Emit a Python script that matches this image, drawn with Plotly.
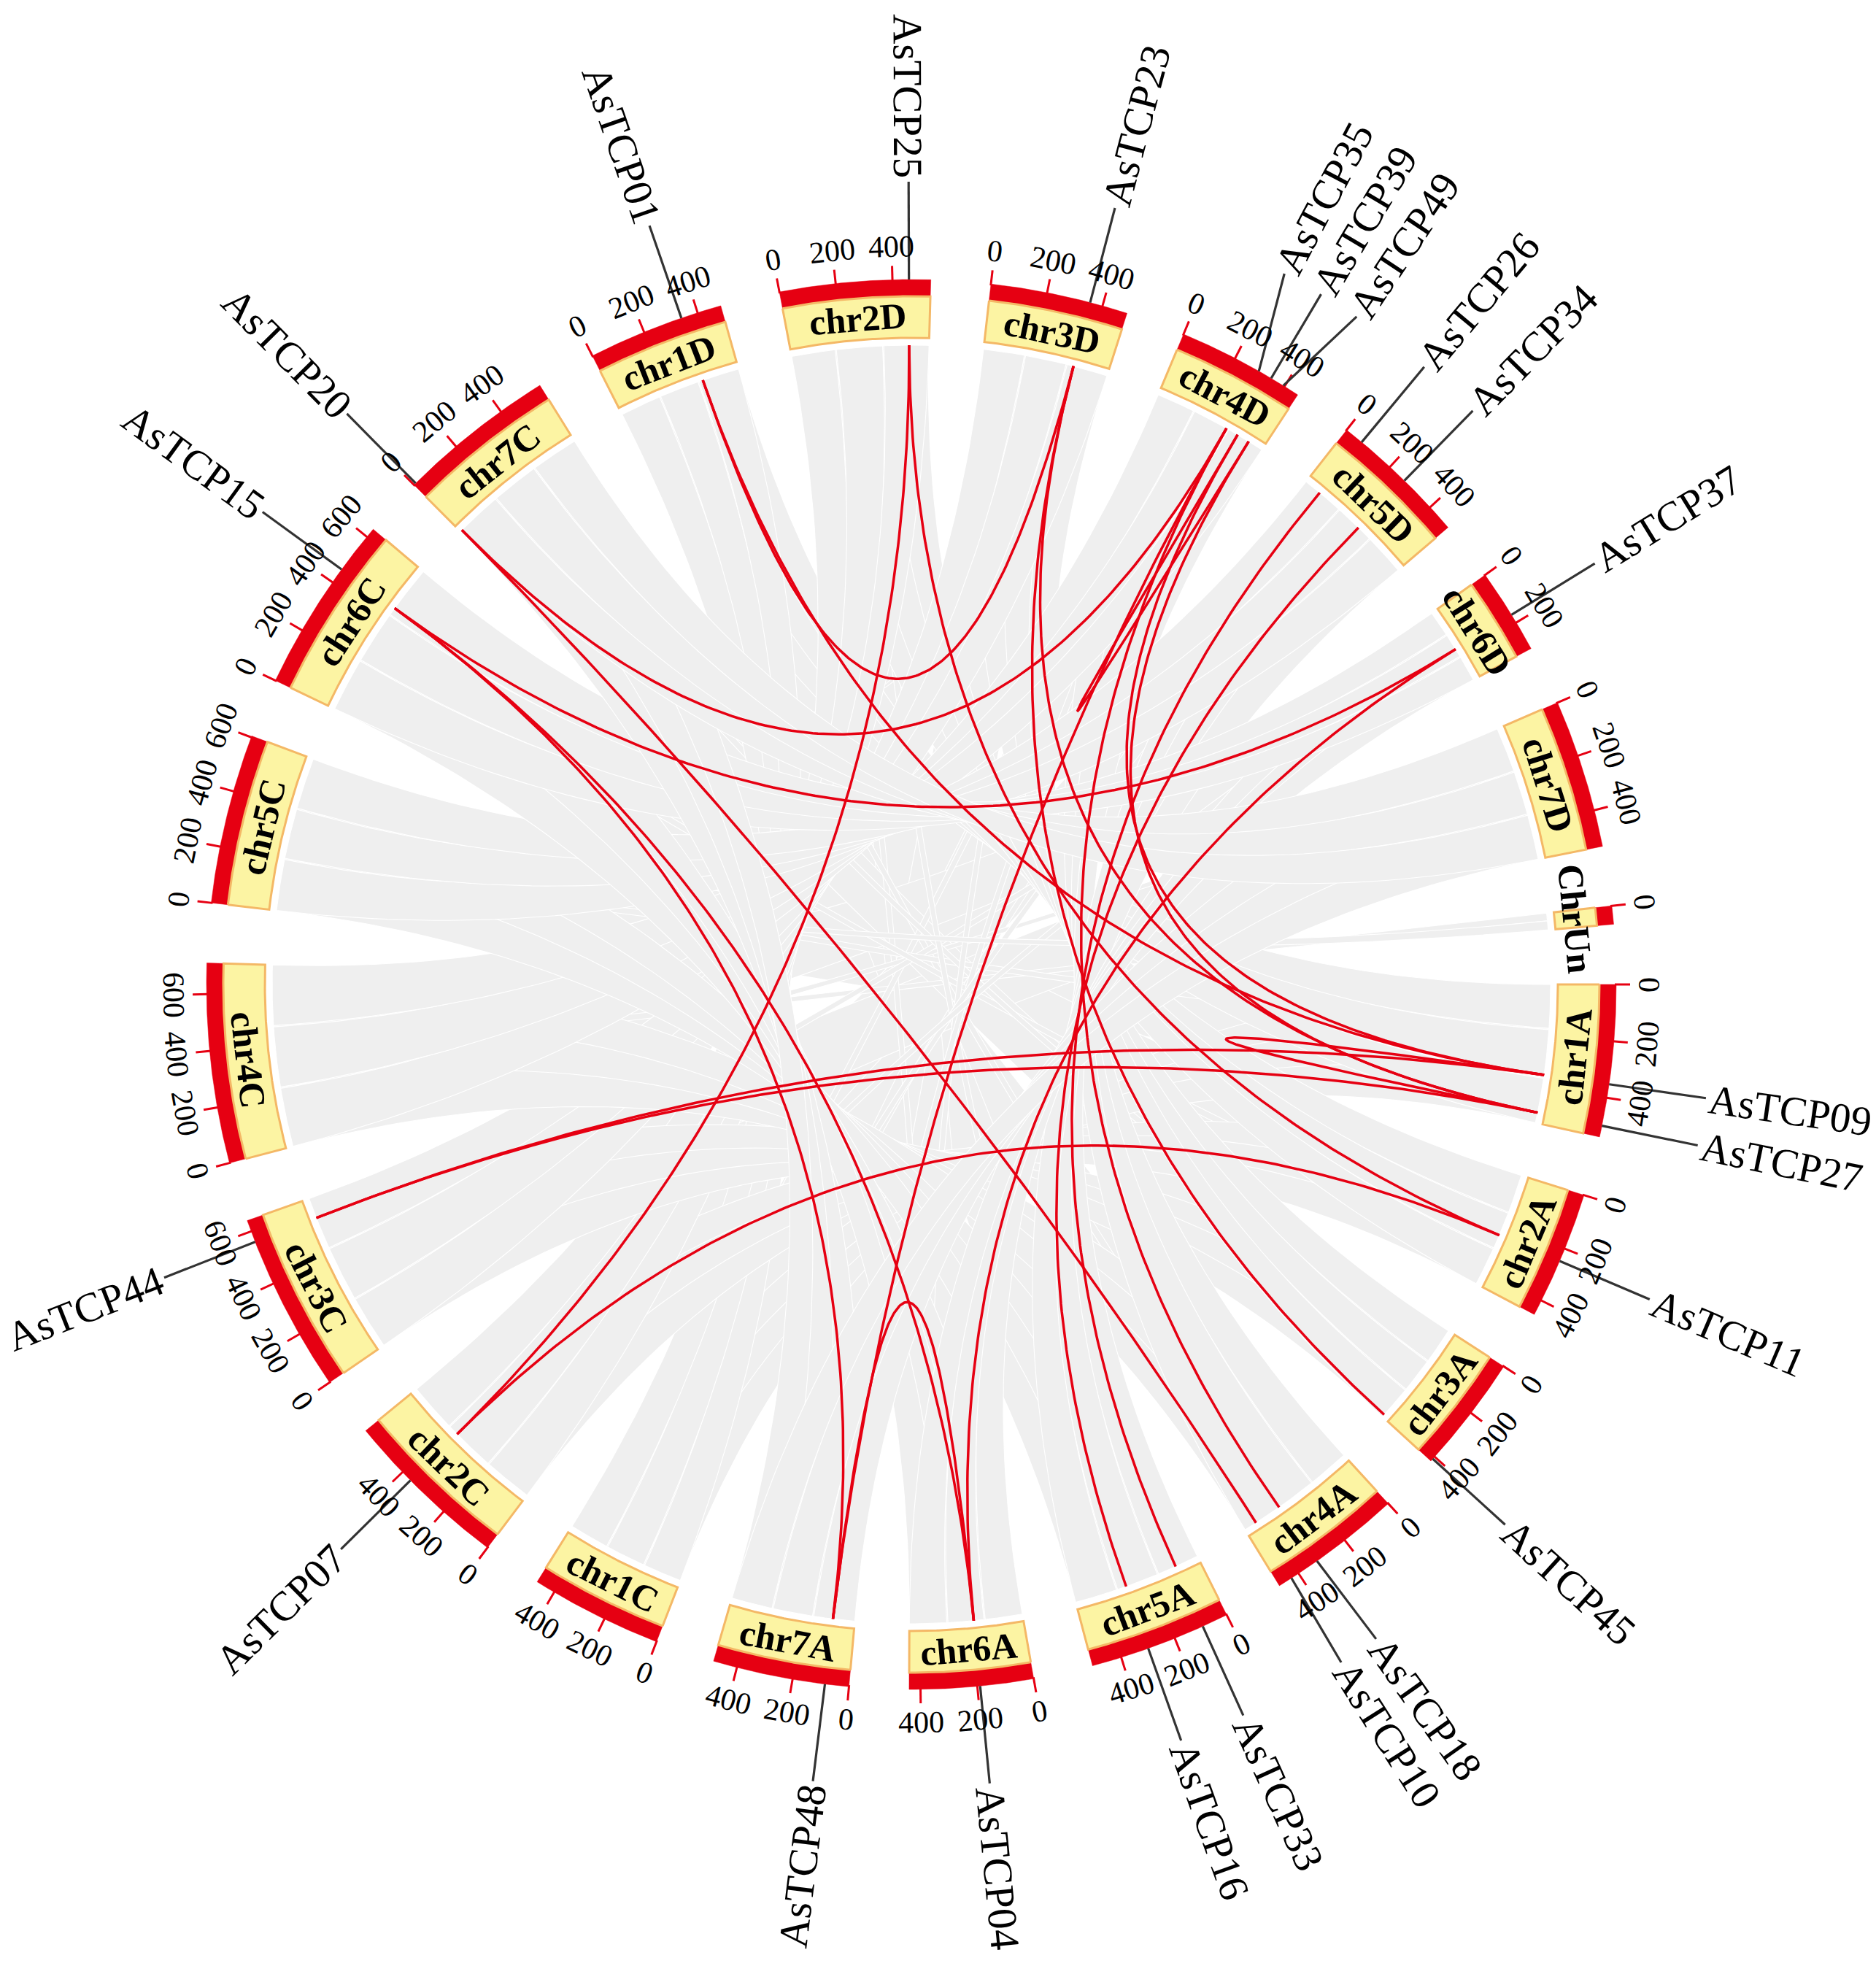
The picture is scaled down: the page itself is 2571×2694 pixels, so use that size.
import numpy as np
import plotly.graph_objects as go

# chromosomes, clockwise from 3 o'clock, lengths in Mb
chrom_names = ["chr1A", "chr2A", "chr3A", "chr4A", "chr5A", "chr6A", "chr7A",
               "chr1C", "chr2C", "chr3C", "chr4C", "chr5C", "chr6C", "chr7C",
               "chr1D", "chr2D", "chr3D", "chr4D", "chr5D", "chr6D", "chr7D",
               "ChrUn"]
chrom_lengths = [540, 455, 420, 480, 505, 440, 485,
                 470, 595, 640, 710, 605, 635, 565,
                 485, 535, 490, 455, 495, 305, 530,
                 65]
tick_step = 200

# TCP genes (position in Mb)
gene_names = ["AsTCP09", "AsTCP27", "AsTCP11", "AsTCP45", "AsTCP18", "AsTCP10",
              "AsTCP33", "AsTCP16", "AsTCP04", "AsTCP48", "AsTCP07", "AsTCP44",
              "AsTCP15", "AsTCP20", "AsTCP01", "AsTCP25", "AsTCP23", "AsTCP35",
              "AsTCP39", "AsTCP49", "AsTCP26", "AsTCP34", "AsTCP37"]
gene_chroms = ["chr1A", "chr1A", "chr2A", "chr3A", "chr4A", "chr4A",
               "chr5A", "chr5A", "chr6A", "chr7A", "chr2C", "chr3C",
               "chr6C", "chr7C", "chr1D", "chr2D", "chr3D", "chr4D",
               "chr4D", "chr4D", "chr5D", "chr5D", "chr6D"]
gene_pos = [352, 500, 247, 410, 322, 430,
            93, 300, 190, 85, 360, 560,
            455, 8, 340, 458, 355, 295,
            345, 395, 68, 270, 168]

# duplicated gene pairs (red links)
link_a = ["AsTCP25", "AsTCP25", "AsTCP11", "AsTCP01", "AsTCP01", "AsTCP23",
          "AsTCP23", "AsTCP09", "AsTCP44", "AsTCP44", "AsTCP20", "AsTCP20",
          "AsTCP15", "AsTCP15", "AsTCP15", "AsTCP48", "AsTCP37", "AsTCP26",
          "AsTCP34", "AsTCP35", "AsTCP39", "AsTCP39", "AsTCP49", "AsTCP35"]
link_b = ["AsTCP11", "AsTCP07", "AsTCP07", "AsTCP23", "AsTCP09", "AsTCP27",
          "AsTCP45", "AsTCP27", "AsTCP09", "AsTCP27", "AsTCP35", "AsTCP10",
          "AsTCP37", "AsTCP04", "AsTCP48", "AsTCP04", "AsTCP04", "AsTCP33",
          "AsTCP16", "AsTCP18", "AsTCP49", "AsTCP09", "AsTCP27", "AsTCP48"]

# syntenic blocks between homeologous chromosomes (gray ribbons), Mb
syn_groups = [["chr1A", "chr1C", "chr1D"], ["chr2A", "chr2C", "chr2D"],
              ["chr3A", "chr3C", "chr3D"], ["chr4A", "chr4C", "chr4D"],
              ["chr5A", "chr5C", "chr5D"], ["chr6A", "chr6C", "chr6D"],
              ["chr7A", "chr7C", "chr7D"]]
syn_segments = [
    [[(0, 170), (175, 360), (365, 540)], [(0, 150), (155, 310), (315, 470)], [(0, 160), (165, 320), (325, 485)]],
    [[(0, 150), (155, 300), (305, 455)], [(0, 190), (195, 400), (405, 595)], [(0, 170), (175, 355), (360, 535)]],
    [[(0, 140), (145, 280), (285, 420)], [(0, 210), (215, 430), (435, 640)], [(0, 160), (165, 325), (330, 490)]],
    [[(0, 160), (165, 320), (325, 480)], [(0, 230), (235, 470), (475, 710)], [(0, 150), (155, 300), (305, 455)]],
    [[(0, 165), (170, 335), (340, 505)], [(0, 200), (205, 400), (405, 605)], [(0, 165), (170, 330), (335, 495)]],
    [[(0, 145), (150, 290), (295, 440)], [(0, 210), (215, 420), (425, 635)], [(0, 100), (105, 200), (205, 305)]],
    [[(0, 160), (165, 320), (325, 485)], [(0, 185), (190, 375), (380, 565)], [(0, 175), (180, 350), (355, 530)]],
]

# further blocks (translocated / scattered collinear regions), Mb
blk_chr1 = ["chr1A", "chr2A", "chr4A", "chr5A", "chr6A", "chr7A", "chr1C", "chr2C",
            "chr3C", "chr4C", "chr3A", "ChrUn",
            "chr3D", "chr2D", "chr5D", "chr1D", "chr4D", "chr7D", "chr6D", "chr1A",
            "chr2A", "chr3A", "chr5A", "chr6A", "chr7A", "chr1C", "chr2C", "ChrUn"]
blk_s1 = [40, 30, 40, 50, 40, 50, 40, 60,
          80, 100, 40, 0,
          200, 100, 50, 100, 50, 100, 20, 150,
          300, 50, 400, 350, 50, 150, 100, 30]
blk_e1 = [500, 420, 440, 460, 400, 440, 430, 540,
          580, 650, 380, 30,
          240, 140, 90, 140, 90, 130, 60, 190,
          340, 90, 440, 390, 90, 190, 140, 65]
blk_chr2 = ["chr5C", "chr6C", "chr7C", "chr1D", "chr2D", "chr3D", "chr4D", "chr5D",
            "chr7D", "chr6D", "chr7C", "chr4C",
            "chr7C", "chr6A", "chr1C", "chr4A", "chr1C", "chr4C", "chr3C", "chr5C",
            "chr6C", "chr7C", "chr2D", "chr3D", "chr4D", "chr5D", "chr6D", "chr5C"]
blk_s2 = [60, 80, 50, 40, 60, 40, 30, 40,
          50, 20, 60, 330,
          100, 300, 50, 300, 380, 100, 300, 300,
          300, 250, 250, 380, 150, 200, 120, 200]
blk_e2 = [560, 580, 520, 450, 480, 450, 420, 450,
          480, 280, 400, 370,
          140, 340, 90, 340, 420, 140, 340, 340,
          340, 290, 290, 420, 190, 240, 160, 240]

RED = "#E60012"
YELLOW = "#FCF4A3"
ORANGE = "#F4B866"
GRAY = "#EFEFEF"
FONT = "Times New Roman, Liberation Serif, serif"

R_RED_OUT, R_RED_IN, R_BOX_IN, R_LINK = 966, 943, 886, 876
R_TICK, R_TICK_LABEL = 985, 1011
R_GLINE, R_GTEXT = 1100, 1217
GAP = 4.9

deg_per_mb = (360 - GAP * len(chrom_names)) / sum(chrom_lengths)
start_deg = {}
a = 0.0
for name, L in zip(chrom_names, chrom_lengths):
    start_deg[name] = a
    a += L * deg_per_mb + GAP


def ang(chrom, pos):
    return start_deg[chrom] + pos * deg_per_mb


def xy(r, deg):
    t = np.radians(deg)
    return r * np.cos(t), -r * np.sin(t)


def arc(r, a0, a1, n=60):
    return xy(r, np.linspace(a0, a1, n))


def bez(p0, p2, n=80):
    # quadratic bezier with the control point at the circle centre
    t = np.linspace(0, 1, n)
    return (1 - t) ** 2 * p0[0] + t ** 2 * p2[0], (1 - t) ** 2 * p0[1] + t ** 2 * p2[1]


def tang_angle(phi):
    a = (phi + 90) % 360
    if a > 180:
        a -= 360
    if a > 90:
        a -= 180
    elif a <= -90:
        a += 180
    return a


def rad_angle(phi):
    b = phi % 360
    if b > 180:
        b -= 360
    if b > 90:
        b -= 180
    elif b < -90:
        b += 180
    return b


fig = go.Figure()


def add_ribbon(c1, s1, e1, c2, s2, e2):
    a1s, a1e, a2s, a2e = ang(c1, s1), ang(c1, e1), ang(c2, s2), ang(c2, e2)
    x1, y1 = arc(R_LINK, a1s, a1e)
    bx1, by1 = bez(xy(R_LINK, a1e), xy(R_LINK, a2s))
    x2, y2 = arc(R_LINK, a2s, a2e)
    bx2, by2 = bez(xy(R_LINK, a2e), xy(R_LINK, a1s))
    fig.add_trace(go.Scatter(
        x=np.concatenate([x1, bx1, x2, bx2]), y=np.concatenate([y1, by1, y2, by2]),
        mode="lines", fill="toself", fillcolor=GRAY,
        line=dict(color="white", width=1.1), hoverinfo="skip"))


for row in zip(blk_chr1, blk_s1, blk_e1, blk_chr2, blk_s2, blk_e2):
    add_ribbon(*row)
for chroms, segs in zip(syn_groups, syn_segments):
    for i, j in [(0, 1), (0, 2), (1, 2)]:
        for (s1, e1), (s2, e2) in zip(segs[i], segs[j]):
            add_ribbon(chroms[i], s1, e1, chroms[j], s2, e2)

# red links between duplicated genes
gene_angle = {g: ang(c, p) for g, c, p in zip(gene_names, gene_chroms, gene_pos)}
lx, ly = [], []
for g1, g2 in zip(link_a, link_b):
    bx, by = bez(xy(R_LINK, gene_angle[g1]), xy(R_LINK, gene_angle[g2]), 150)
    lx += list(bx) + [None]
    ly += list(by) + [None]
fig.add_trace(go.Scatter(x=lx, y=ly, mode="lines",
                         line=dict(color=RED, width=3.5), hoverinfo="skip"))

annotations = []

# chromosome boxes, ticks, tick labels
tx, ty = [], []
for name, L in zip(chrom_names, chrom_lengths):
    a0, a1 = ang(name, 0), ang(name, L)
    xo, yo = arc(R_RED_OUT, a0, a1)
    xi, yi = arc(R_RED_IN, a1, a0)
    fig.add_trace(go.Scatter(x=np.concatenate([xo, xi, xo[:1]]), y=np.concatenate([yo, yi, yo[:1]]),
                             mode="lines", fill="toself", fillcolor=RED,
                             line=dict(color=RED, width=0.5), hoverinfo="skip"))
    xo, yo = arc(R_RED_IN, a0, a1)
    xi, yi = arc(R_BOX_IN, a1, a0)
    fig.add_trace(go.Scatter(x=np.concatenate([xo, xi, xo[:1]]), y=np.concatenate([yo, yi, yo[:1]]),
                             mode="lines", fill="toself", fillcolor=YELLOW,
                             line=dict(color=ORANGE, width=3), hoverinfo="skip"))
    mid = (a0 + a1) / 2
    cx, cy = xy((R_RED_IN + R_BOX_IN) / 2, mid)
    annotations.append(dict(x=cx, y=cy, text="<b>%s</b>" % name, showarrow=False,
                            textangle=tang_angle(mid), xanchor="center", yanchor="middle",
                            font=dict(family=FONT, size=50, color="black")))
    for p in range(0, L + 1, tick_step):
        t = ang(name, p)
        x0, y0 = xy(R_RED_OUT - 2, t)
        x1, y1 = xy(R_TICK, t)
        tx += [x0, x1, None]
        ty += [y0, y1, None]
        lxp, lyp = xy(R_TICK_LABEL, t)
        annotations.append(dict(x=lxp, y=lyp, text=str(p), showarrow=False,
                                textangle=tang_angle(t), xanchor="center", yanchor="middle",
                                font=dict(family=FONT, size=42, color="black")))
fig.add_trace(go.Scatter(x=tx, y=ty, mode="lines", line=dict(color=RED, width=3),
                         hoverinfo="skip"))

# gene labels, spread a little where they crowd
order = sorted(gene_names, key=lambda g: gene_angle[g])
label_angle = {g: gene_angle[g] for g in order}
for _ in range(200):
    for g1, g2 in zip(order[:-1], order[1:]):
        d = label_angle[g2] - label_angle[g1]
        if d < 3.0:
            push = (3.0 - d) / 4
            label_angle[g1] -= push
            label_angle[g2] += push

gx, gy = [], []
for g in gene_names:
    x0, y0 = xy(R_RED_OUT, gene_angle[g])
    x1, y1 = xy(R_GLINE, label_angle[g])
    gx += [x0, x1, None]
    gy += [y0, y1, None]
    px, py = xy(R_GTEXT, label_angle[g])
    annotations.append(dict(x=px, y=py, text=g, showarrow=False,
                            textangle=rad_angle(label_angle[g]), xanchor="center",
                            yanchor="middle", font=dict(family=FONT, size=57, color="black")))
fig.add_trace(go.Scatter(x=gx, y=gy, mode="lines", line=dict(color="#333333", width=3.2),
                         hoverinfo="skip"))

fig.update_layout(
    width=2563, height=2686,
    margin=dict(l=0, r=0, t=0, b=0),
    xaxis=dict(range=[-1241, 1322], visible=False),
    yaxis=dict(range=[-1345, 1341], visible=False),
    plot_bgcolor="white", paper_bgcolor="white",
    showlegend=False, hovermode=False,
    annotations=annotations,
)

fig.write_html("out.html")
